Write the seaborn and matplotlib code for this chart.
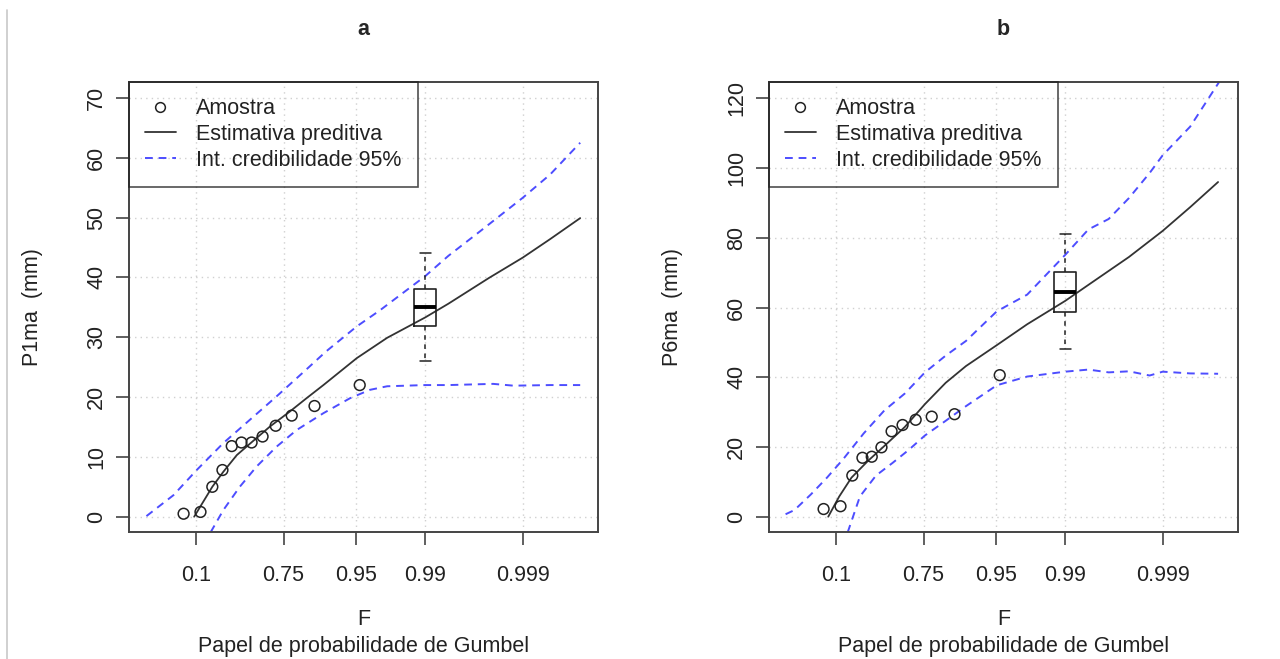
import matplotlib.pyplot as plt
import numpy as np
import seaborn as sns
from matplotlib.lines import Line2D

# x values are Gumbel reduced variates, -ln(-ln F)
F_TICKS = [0.1, 0.75, 0.95, 0.99, 0.999]
F_TICK_LABELS = ["0.1", "0.75", "0.95", "0.99", "0.999"]

SAMPLE_X = [-1.12, -0.72, -0.44, -0.20, 0.02, 0.25, 0.49, 0.75, 1.06, 1.44, 1.98, 3.05]

# panel a: P1ma
SAMPLE_A = [0.5, 0.8, 5.0, 7.8, 11.8, 12.4, 12.4, 13.4, 15.2, 16.9, 18.5, 22.0]
PRED_A_X = [-0.87, -0.44, -0.18, 0.14, 0.50, 0.93, 1.40, 1.79, 2.19, 2.98, 3.70, 4.60, 5.15, 6.11, 6.91, 7.56, 8.27]
PRED_A_Y = [0.0, 5.0, 7.5, 10.3, 12.5, 15.1, 17.6, 19.8, 22.0, 26.5, 29.9, 33.3, 35.6, 39.9, 43.3, 46.4, 49.9]
UPPER_A_X = [-2.0, -1.36, -0.81, -0.18, 0.45, 1.08, 1.77, 2.25, 2.98, 3.53, 4.60, 5.15, 5.90, 6.91, 7.56, 8.27]
UPPER_A_Y = [0.1, 3.6, 7.8, 12.3, 16.2, 20.1, 24.5, 27.6, 31.8, 34.5, 40.2, 43.6, 47.7, 53.3, 57.2, 62.5]
LOWER_A_X = [-0.48, -0.18, 0.21, 0.61, 1.08, 1.56, 2.19, 2.82, 3.29, 3.70, 4.60, 5.15, 6.21, 6.69, 7.56, 8.27]
LOWER_A_Y = [-2.6, 1.1, 5.0, 8.4, 11.7, 14.5, 17.3, 19.8, 21.2, 21.8, 22.0, 22.0, 22.2, 21.9, 22.0, 22.0]
BOX_A = [26.1, 31.9, 35.0, 38.1, 44.1]  # whislo, q1, med, q3, whishi

# panel b: P6ma
SAMPLE_B = [2.2, 3.0, 11.8, 16.9, 17.2, 19.9, 24.5, 26.3, 27.8, 28.7, 29.4, 40.6]
PRED_B_X = [-1.01, -0.75, -0.46, -0.07, 0.32, 0.80, 1.28, 1.77, 2.25, 2.98, 3.70, 4.60, 5.15, 6.11, 6.91, 7.56, 8.22]
PRED_B_Y = [0.0, 5.8, 11.2, 16.0, 20.3, 25.7, 32.3, 38.4, 43.2, 49.2, 55.2, 61.9, 66.5, 74.5, 82.0, 88.8, 96.0]
UPPER_B_X = [-2.02, -1.81, -1.42, -1.04, -0.65, -0.17, 0.32, 0.80, 1.28, 1.77, 2.25, 2.98, 3.70, 4.60, 5.15, 5.63, 6.11, 6.60, 6.91, 7.56, 8.24]
UPPER_B_Y = [0.7, 1.9, 6.4, 11.2, 16.6, 23.9, 30.5, 35.3, 41.4, 46.2, 50.4, 58.9, 63.7, 75.1, 82.4, 85.4, 91.4, 98.6, 103.7, 111.9, 124.6]
LOWER_B_X = [-0.55, -0.26, 0.12, 0.51, 0.89, 1.28, 1.77, 2.25, 2.98, 3.70, 4.60, 5.15, 5.63, 6.11, 6.60, 6.91, 7.56, 8.22]
LOWER_B_Y = [-4.5, 5.8, 11.8, 15.4, 19.1, 23.3, 27.5, 31.7, 37.7, 40.2, 41.6, 42.2, 41.4, 41.7, 40.5, 41.6, 41.1, 41.0]
BOX_B = [48.0, 58.7, 64.5, 70.1, 81.2]

PANELS = [
    ("a", "P1ma  (mm)", SAMPLE_A, PRED_A_X, PRED_A_Y, UPPER_A_X, UPPER_A_Y,
     LOWER_A_X, LOWER_A_Y, BOX_A, [0, 10, 20, 30, 40, 50, 60, 70], (-2.6, 72.65)),
    ("b", "P6ma  (mm)", SAMPLE_B, PRED_B_X, PRED_B_Y, UPPER_B_X, UPPER_B_Y,
     LOWER_B_X, LOWER_B_Y, BOX_B, [0, 20, 40, 60, 80, 100, 120], (-4.47, 124.7)),
]

sns.set_style("white")
plt.rcParams["font.family"] = ["Liberation Sans", "DejaVu Sans"]
FS = 15.5
BLUE = "#4d4dff"
INK = "#222222"
EDGE = "#444444"

fig = plt.figure(figsize=(12.8, 6.59), dpi=100)
fig.add_artist(Line2D([6.5 / 1280, 6.5 / 1280], [0, 0.985], color="#c8c8c8", lw=1.2))

for i, (tag, ylab, sample, px, py, ux, uy, lx, ly, box, yticks, ylim) in enumerate(PANELS):
    ax = fig.add_axes([0.1010 + 0.5 * i, 0.1923, 0.3659, 0.6833])
    xt = -np.log(-np.log(np.array(F_TICKS)))

    for v in xt:
        ax.axvline(v, color="#d0d0d0", lw=1, ls=(0, (1, 3)), zorder=0)
    for v in yticks:
        ax.axhline(v, color="#d0d0d0", lw=1, ls=(0, (1, 3)), zorder=0)

    sns.lineplot(x=ux, y=uy, ax=ax, color=BLUE, lw=1.4, ls=(0, (4, 3)), sort=False)
    sns.lineplot(x=lx, y=ly, ax=ax, color=BLUE, lw=1.4, ls=(0, (4, 3)), sort=False)
    sns.lineplot(x=px, y=py, ax=ax, color="#333333", lw=1.3, sort=False)
    sns.scatterplot(x=SAMPLE_X, y=sample, ax=ax, s=60, facecolors="none",
                    edgecolor="#222222", linewidth=1.1, zorder=4)

    stats = [{"whislo": box[0], "q1": box[1], "med": box[2], "q3": box[3],
              "whishi": box[4], "fliers": []}]
    ax.bxp(stats, positions=[xt[3]], widths=0.53, capwidths=0.265,
           showfliers=False, manage_ticks=False,
           boxprops=dict(color=INK, lw=1.2),
           medianprops=dict(color="black", lw=2.8),
           whiskerprops=dict(color=INK, lw=1.1, ls=(0, (3, 3))),
           capprops=dict(color=INK, lw=1.1))

    ax.set_xlim(-2.406, 8.683)
    ax.set_ylim(*ylim)
    ax.set_xticks(xt)
    ax.set_xticklabels(F_TICK_LABELS)
    ax.set_yticks(yticks)
    ax.set_yticklabels([str(v) for v in yticks], rotation=90, va="center")
    ax.tick_params(axis="x", length=9.5, width=1.2, color=EDGE, pad=14, labelsize=FS, labelcolor=INK)
    ax.tick_params(axis="y", length=9.5, width=1.2, color=EDGE, pad=6.5, labelsize=FS, labelcolor=INK)
    ax.tick_params(bottom=True, left=True)
    for sp in ax.spines.values():
        sp.set_color(EDGE)
        sp.set_linewidth(1.4)

    ax.set_ylabel(ylab, fontsize=FS, color=INK)
    ax.yaxis.label.set_va("center")
    ax.yaxis.set_label_coords(-0.2056, 0.5)
    ax.set_xlabel("F", fontsize=FS, color=INK)
    ax.xaxis.label.set_va("center")
    ax.xaxis.set_label_coords(0.5, -0.1948)
    ax.text(0.5, -0.2310, "Papel de probabilidade de Gumbel", transform=ax.transAxes,
            ha="center", va="top", fontsize=FS, color=INK)
    ax.set_title(tag, y=1.1155, va="center", pad=0, fontsize=FS, fontweight="bold")

    handles = [
        Line2D([], [], ls="none", marker="o", ms=7, mfc="none", mec="#222222", mew=1.1),
        Line2D([], [], color="#333333", lw=1.3),
        Line2D([], [], color=BLUE, lw=1.4, ls=(0, (4, 3))),
    ]
    leg = ax.legend(handles, ["Amostra", "Estimativa preditiva", "Int. credibilidade 95%"],
                    loc="upper left", bbox_to_anchor=(0, 1), borderaxespad=0,
                    fontsize=FS, frameon=True, fancybox=False,
                    edgecolor=INK, borderpad=0.75, handlelength=1.4,
                    handletextpad=0.95, labelspacing=0.22)
    leg.get_frame().set_linewidth(1.2)
    leg.get_frame().set_facecolor("none")
    for t in leg.get_texts():
        t.set_color(INK)

fig.savefig("out.png", dpi=100)
